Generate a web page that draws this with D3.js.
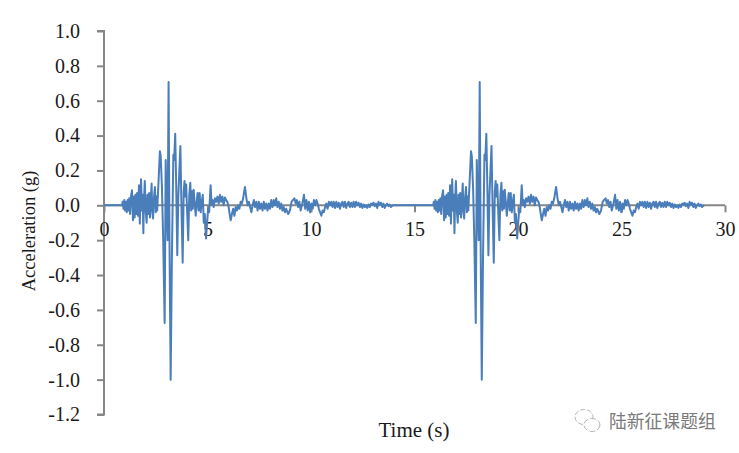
<!DOCTYPE html>
<html><head><meta charset="utf-8">
<script src="https://cdnjs.cloudflare.com/ajax/libs/d3/7.8.5/d3.min.js"></script>
<style>html,body{margin:0;padding:0;background:#fff}svg{display:block}</style></head>
<body><svg id="c" width="739" height="453"></svg>
<script>
const burstTime = [
0,.87,.90,.94,.98,1.02,1.06,1.10,1.14,1.18,
1.22,1.26,1.30,1.35,1.40,1.44,1.48,1.52,1.56,1.60,
1.64,1.69,1.73,1.79,1.83,1.87,1.90,1.93,1.97,2.02,
2.06,2.10,2.14,2.18,2.22,2.26,2.30,2.33,2.37,2.41,
2.46,2.50,2.53,2.57,2.62,2.70,2.74,2.80,2.86,2.93,
2.98,3.02,3.07,3.12,3.17,3.22,3.28,3.35,3.39,3.44,
3.49,3.54,3.59,3.64,3.69,3.74,3.80,3.85,3.89,3.93,
3.97,4.02,4.07,4.12,4.17,4.21,4.25,4.29,4.33,4.37,
4.43,4.48,4.52,4.57,4.62,4.67,4.72,4.77,4.82,4.87,
4.93,4.98,5.03,5.08,5.15,5.20,5.25,5.30,5.36,5.42,
5.48,5.54,5.60,5.66,5.72,5.78,5.84,5.90,5.96,6.02,
6.07,6.12,6.18,6.24,6.30,6.36,6.42,6.48,6.54,6.60,
6.66,6.72,6.81,6.88,6.94,7.00,7.06,7.12,7.18,7.24,
7.30,7.36,7.42,7.48,7.54,7.60,7.66,7.72,7.78,7.84,
7.90,7.96,8.02,8.08,8.14,8.20,8.26,8.32,8.38,8.44,
8.50,8.56,8.62,8.68,8.74,8.80,8.90,8.98,9.06,9.12,
9.20,9.26,9.32,9.38,9.44,9.50,9.56,9.60,9.66,9.72,
9.78,9.84,9.90,9.96,10.02,10.08,10.14,10.20,10.26,10.32,
10.38,10.44,10.50,10.56,10.62,10.68,10.74,10.80,10.86,10.92,
10.98,11.04,11.10,11.16,11.22,11.28,11.34,11.40,11.46,11.52,
11.58,11.64,11.70,11.76,11.82,11.88,11.94,12.00,12.06,12.12,
12.18,12.24,12.30,12.36,12.42,12.48,12.54,12.60,12.66,12.72,
12.78,12.84,12.90,12.96,13.02,13.08,13.14,13.20,13.26,13.32,
13.38,13.44,13.50,13.56,13.62,13.68,13.74,13.80,13.86,13.96,
15];
const burstAccel = [
0,0,.02,-.02,.03,-.03,.02,-.04,.03,-.03,
.04,-.05,.05,.086,-.086,.05,-.07,.06,-.05,.07,
-.06,.115,-.105,.15,-.03,.06,-.16,.02,.14,-.04,
-.10,.06,-.05,.07,-.07,.03,.125,-.03,-.075,.04,
.105,-.04,.05,-.03,.10,.31,.28,.10,-.20,-.675,
.26,.02,-.2,.707,-.3,-1.0,-.3,.29,.26,.41,
.1,-.287,.05,.2,.34,.0,-.33,.08,.14,.05,
.12,-.05,-.2,.06,.13,-.03,.08,-.02,.09,.03,
-.06,.02,.07,-.03,.07,-.04,.02,.06,-.10,-.05,
-.19,-.10,-.02,-.04,.115,.0,.03,-.01,.04,.02,
.05,.01,.06,.02,.05,.0,.045,.03,.02,-.01,
-.05,-.086,-.05,-.02,-.06,-.01,-.03,.0,-.02,.02,
.01,.04,.105,.04,.0,.02,-.01,-.04,.0,.03,
-.01,.02,-.03,.02,-.02,.01,-.03,.02,-.02,.01,
-.03,.01,-.02,.03,-.01,.03,.0,.04,-.01,.02,
-.02,.01,-.03,-.01,-.04,-.02,-.05,-.03,.02,.03,
.04,.01,.03,-.01,.02,-.03,.0,.02,.06,-.02,
.03,-.03,.02,-.04,.01,-.02,.03,.0,.03,.01,
-.02,-.04,-.06,-.03,-.04,-.01,.01,-.02,.02,.0,
.02,-.01,.02,-.015,.02,-.01,.015,-.02,.01,.02,
-.01,.02,-.015,.01,.02,-.01,.015,-.01,.02,-.01,
.02,.0,.015,-.01,.01,-.015,.005,-.01,.0,-.015,
.005,-.01,.01,.005,.015,-.005,.01,-.015,.02,.005,
.015,-.01,.01,-.015,.0,.01,-.005,.005,-.01,0,
0];
const repeatOffset = 15.03;
const timeValues = burstTime.concat(burstTime.filter(t => t <= 13.96).map(t => t + repeatOffset));
const accelValues = burstAccel.concat(burstAccel.filter((v, i) => burstTime[i] <= 13.96));
const xTickValues = [0,5,10,15,20,25,30];
const yTickValues = [1.0,.8,.6,.4,.2,0,-.2,-.4,-.6,-.8,-1.0,-1.2];
const xTitle = "Time (s)", yTitle = "Acceleration (g)", watermark = "陆新征课题组";

const svg = d3.select("#c");
const serif = "'Liberation Serif','Times New Roman',serif";
const x = d3.scaleLinear().domain([0,30]).range([104,725]);
const y = d3.scaleLinear().domain([-1.2,1]).range([414.5,31]);
const gray = "#868686";

const yAxis = svg.append("g").attr("transform","translate(104,0)")
  .call(d3.axisLeft(y).tickValues(yTickValues).tickSize(7).tickPadding(17));
const xAxis = svg.append("g").attr("transform",`translate(0,${y(0)})`)
  .call(d3.axisBottom(x).tickValues(xTickValues).tickFormat(d3.format("d")).tickSize(7).tickPadding(9));
[yAxis,xAxis].forEach(g=>{
  g.selectAll("path").attr("stroke",gray).attr("stroke-width",2);
  g.selectAll("line").attr("stroke",gray).attr("stroke-width",2);
  g.selectAll("text").attr("fill","#1a1a1a").attr("font-family",serif).attr("font-size",20);
});
yAxis.selectAll("path").attr("d",`M-7,${y(1)}H0V${y(-1.2)}H-7`);
xAxis.selectAll("path").attr("d",`M${x(0)},0H${x(30)}`);
yAxis.selectAll("text").attr("dy","0.32em").text(d=>d.toFixed(1).replace("-0.0","0.0"));

svg.append("path").datum(d3.range(timeValues.length))
  .attr("fill","none").attr("stroke","#4a7ebb").attr("stroke-width",2).attr("stroke-linejoin","round")
  .attr("d",d3.line().x(i=>x(timeValues[i])).y(i=>y(accelValues[i])));

svg.append("text").attr("x",414).attr("y",437).attr("text-anchor","middle")
  .attr("font-family",serif).attr("font-size",21).attr("fill","#1a1a1a").text(xTitle);
svg.append("text").attr("transform","translate(35,231) rotate(-90)").attr("text-anchor","middle")
  .attr("font-family",serif).attr("font-size",18.5).attr("fill","#1a1a1a").text(yTitle);

// watermark
const wm = svg.append("g").attr("fill","none").attr("stroke","#b5b5b5").attr("stroke-width",1);
wm.append("ellipse").attr("cx",584).attr("cy",417).attr("rx",9).attr("ry",7.5).attr("stroke-dasharray","5 2");
wm.append("ellipse").attr("cx",592).attr("cy",425).attr("rx",8).attr("ry",6.5).attr("fill","#fff").attr("stroke-dasharray","6 2");
svg.append("text").attr("x",609).attr("y",428).attr("font-family","'Noto Sans CJK SC'").attr("font-size",17.8)
  .attr("fill","#7a7a7a").text(watermark);
</script></body></html>
